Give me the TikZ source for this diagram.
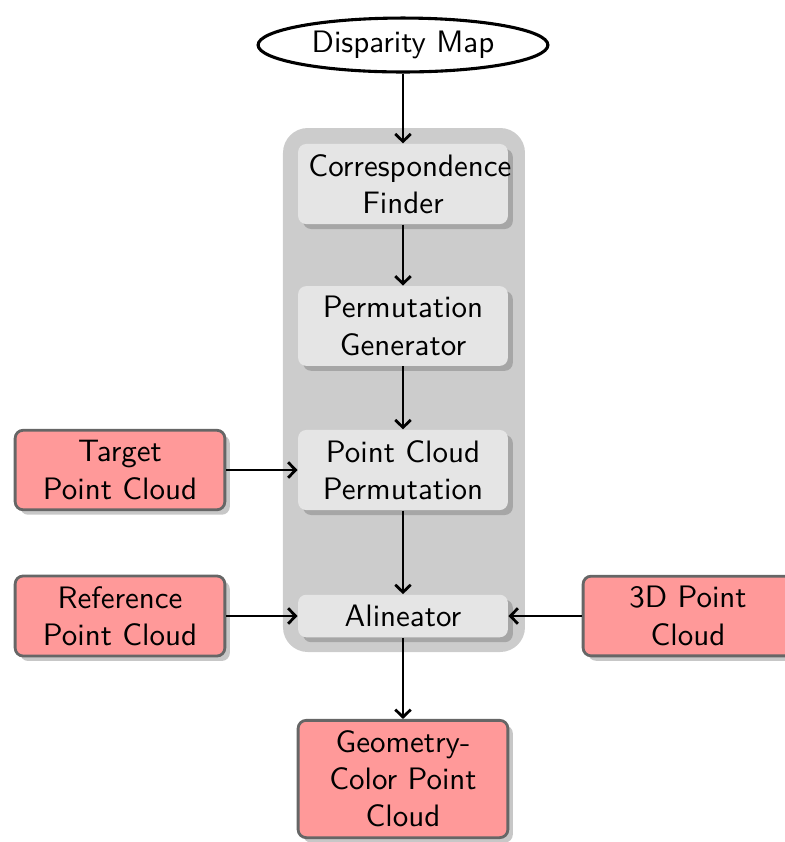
\documentclass[tikz,border=0pt]{standalone}
\usetikzlibrary{shapes.geometric,shadows,arrows.meta}
\begin{document}
\begin{tikzpicture}[x=0.3226pt,y=-0.3226pt,
  font=\sffamily\fontsize{10}{12}\selectfont,
  proc/.style={fill=black!10, rounded corners=2.6pt, text width=61pt, align=center,
    drop shadow={shadow xshift=1.6pt, shadow yshift=-1.6pt, fill=black!35, opacity=1}},
  iobox/.style={fill=red!40, draw=black!60, line width=0.9pt, rounded corners=2.6pt, text width=61pt, align=center,
    drop shadow={shadow xshift=1.6pt, shadow yshift=-1.6pt, fill=black!22, opacity=1}},
  arr/.style={-{Straight Barb[length=2.4pt,width=5pt,line width=0.9pt]}, line width=0.9pt, black}]
\useasboundingbox (0,0) rectangle (785,842);
\fill[black!20, rounded corners=8pt] (283,128) rectangle (525,652);
\node[ellipse, draw, line width=1pt, inner sep=0pt, minimum width=93.5pt, minimum height=17.4pt] (dm) at (403,45) {Disparity Map};
\node[proc] (cf) at (403,184) {Correspondence\\Finder};
\node[proc] (pg) at (403,326) {Permutation\\Generator};
\node[proc] (pcp) at (403,470) {Point Cloud\\Permutation};
\node[proc] (al) at (403,616) {Alineator};
\node[iobox] (tpc) at (120,470) {Target\\Point Cloud};
\node[iobox] (rpc) at (120,616) {Reference\\Point Cloud};
\node[iobox] (pc3) at (688,616) {3D Point\\Cloud};
\node[iobox] (gc) at (403,779) {Geometry-\\Color Point\\Cloud};
\draw[arr] (dm) -- (cf);
\draw[arr] (cf) -- (pg);
\draw[arr] (pg) -- (pcp);
\draw[arr] (pcp) -- (al);
\draw[arr] (tpc) -- (pcp);
\draw[arr] (rpc) -- (al);
\draw[arr] (pc3) -- (al);
\draw[arr] (al) -- (gc);
\end{tikzpicture}
\end{document}
